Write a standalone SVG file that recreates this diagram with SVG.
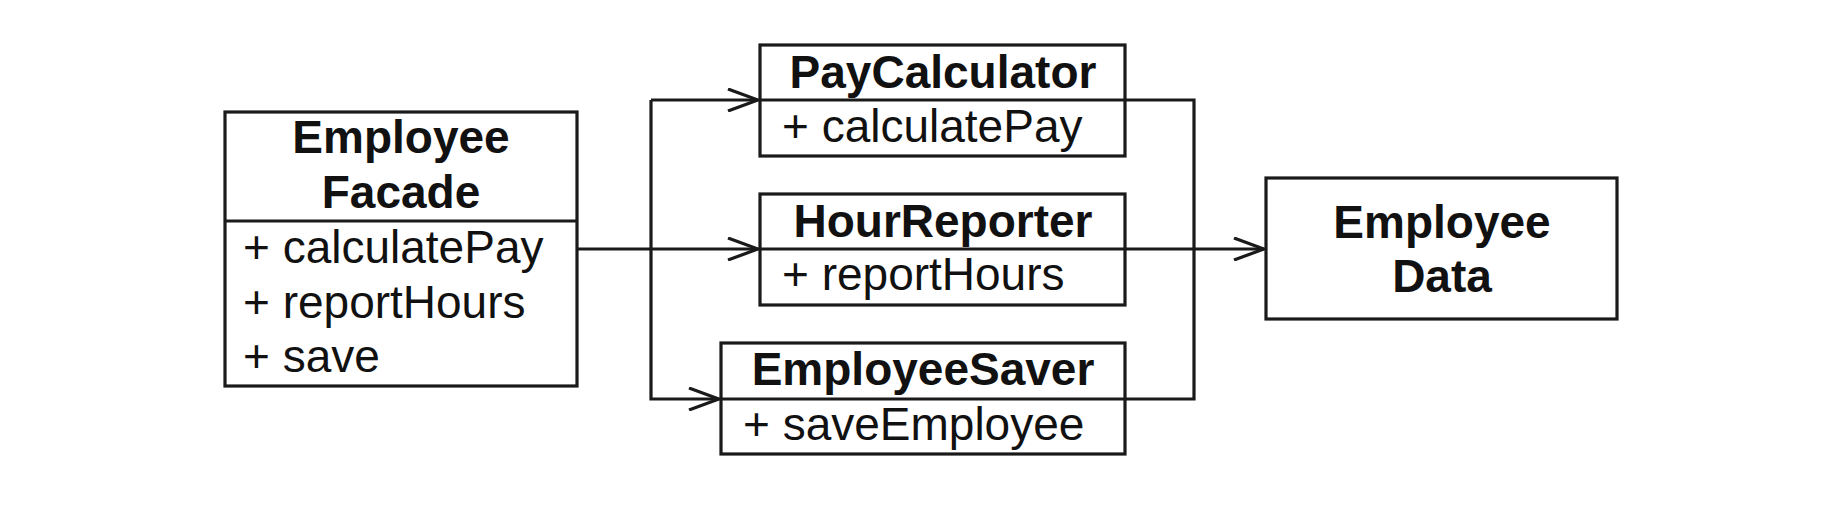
<svg xmlns="http://www.w3.org/2000/svg" width="1828" height="512" viewBox="0 0 1828 512">
  <style>
    .box { fill: #ffffff; stroke: #1a1a1a; stroke-width: 3.2; }
    .div { stroke: #1a1a1a; stroke-width: 3.2; fill: none; }
    .title { font-family: "Liberation Sans", Arial, sans-serif; font-weight: bold; font-size: 46px; fill: #111111; text-anchor: middle; }
    .member { font-family: "Liberation Sans", Arial, sans-serif; font-size: 46px; fill: #111111; }
    .conn { stroke: #1a1a1a; stroke-width: 3.2; fill: none; }
  </style>
  <defs>
    <marker id="open" viewBox="0 0 32 24" refX="31" refY="12" markerWidth="32" markerHeight="24" markerUnits="userSpaceOnUse" orient="auto">
      <path d="M1,1 L31,12 L1,23" fill="none" stroke="#1a1a1a" stroke-width="3.2"/>
    </marker>
  </defs>
  <rect width="1828" height="512" fill="#ffffff"/>

  <g id="connectors">
    <path class="conn" d="M577,249 L758,249" marker-end="url(#open)"/>
    <path class="conn" d="M651,249 L651,100"/>
    <path class="conn" d="M651,100 L758,100" marker-end="url(#open)"/>
    <path class="conn" d="M651,249 L651,399 L719,399" marker-end="url(#open)"/>
    <path class="conn" d="M1125,100 L1194,100 L1194,399 L1125,399"/>
    <path class="conn" d="M1125,249 L1264,249" marker-end="url(#open)"/>
  </g>

  <g id="employee-facade">
    <rect class="box" x="225" y="112" width="352" height="274"/>
    <line class="div" x1="225" y1="221" x2="577" y2="221"/>
    <text class="title" x="401" y="153">Employee</text>
    <text class="title" x="401" y="208">Facade</text>
    <text class="member" x="243" y="263">+ calculatePay</text>
    <text class="member" x="243" y="318">+ reportHours</text>
    <text class="member" x="243" y="372">+ save</text>
  </g>

  <g id="pay-calculator">
    <rect class="box" x="760" y="45" width="365" height="111"/>
    <line class="div" x1="760" y1="100" x2="1125" y2="100"/>
    <text class="title" x="943" y="88">PayCalculator</text>
    <text class="member" x="782" y="142">+ calculatePay</text>
  </g>

  <g id="hour-reporter">
    <rect class="box" x="760" y="194" width="365" height="111"/>
    <line class="div" x1="760" y1="249" x2="1125" y2="249"/>
    <text class="title" x="943" y="237">HourReporter</text>
    <text class="member" x="782" y="290">+ reportHours</text>
  </g>

  <g id="employee-saver">
    <rect class="box" x="721" y="343" width="404" height="111"/>
    <line class="div" x1="721" y1="399" x2="1125" y2="399"/>
    <text class="title" x="923" y="385">EmployeeSaver</text>
    <text class="member" x="743" y="440">+ saveEmployee</text>
  </g>

  <g id="employee-data">
    <rect class="box" x="1266" y="178" width="351" height="141"/>
    <text class="title" x="1442" y="238">Employee</text>
    <text class="title" x="1442" y="292">Data</text>
  </g>
</svg>
